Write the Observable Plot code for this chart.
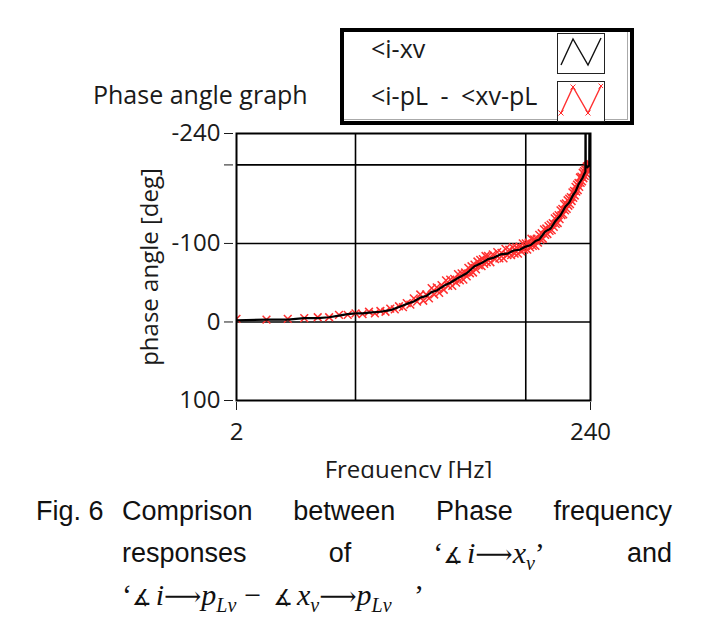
<!DOCTYPE html>
<html>
<head>
<meta charset="utf-8">
<script src="https://cdn.jsdelivr.net/npm/d3@7"></script>
<script src="https://cdn.jsdelivr.net/npm/@observablehq/plot@0.6"></script>
<style>
  html, body { margin: 0; padding: 0; background: white; }
  #wrap { position: relative; width: 706px; height: 626px; overflow: hidden; background: white; font-family: "Open Sans", sans-serif; color: #111; }
  #chart { position: absolute; left: 0; top: 0; }
  .abs { position: absolute; white-space: nowrap; }
  #title { left: 93px; top: 82px; font-size: 25px; line-height: 25px; color: #1a1a1a; }
  #legend { left: 340px; top: 28px; width: 294px; height: 97px; box-sizing: border-box; border: 4px solid black; background: white; }
  #legend .inner { position: absolute; right: 2px; top: 0; bottom: 1px; width: 0; border-left: 1px solid #aaa; }
  #legend .innerb { position: absolute; left: 0; right: 2px; bottom: 1px; height: 0; border-top: 1px solid #aaa; }
  .lt { position: absolute; font-size: 25px; line-height: 25px; color: #1a1a1a; }
  .sw { position: absolute; width: 48px; height: 41px; box-sizing: border-box; border: 1.5px solid #222; background: white; }
  #caption { left: 36px; top: 490px; width: 636px; font-family: "Liberation Sans", Arial, sans-serif; font-size: 27px; color: #111; }
  .cl { display: flex; height: 42px; line-height: 42px; }
  .cl .lab { width: 86px; flex: none; }
  .cl .body { flex: 1; display: flex; justify-content: space-between; }
  .cl.ind { padding-left: 86px; }
  .m { font-family: "Liberation Serif", "DejaVu Serif", serif; font-size: 30px; }
  .m i { font-style: italic; }
  .m .ar { font-family: "DejaVu Serif", serif; font-size: 26px; }
  .m .an { font-family: "DejaVu Sans", sans-serif; font-size: 22px; margin-right: 4px; }
  .m .mn { margin: 0 12px 0 8px; }
  .m sub { font-size: 20px; vertical-align: -7px; line-height: 0; }
</style>
</head>
<body>
<div id="wrap">
  <div id="chart"></div>
  <div id="title" class="abs">Phase angle graph</div>
  <div id="legend" class="abs">
    <div class="inner"></div>
    <div class="innerb"></div>
  </div>
  <div id="caption" class="abs"></div>
</div>
<script>
// ---------- data ----------
const seriesNames = ["<i-xv", "<i-pL - <xv-pL"];

// black line: <i-xv  (frequency in Hz, phase in deg)
const blackFreq = [2, 3, 4, 5, 6, 7, 8, 9, 10, 11, 12, 14, 16, 18, 20, 22, 24, 26, 28, 30, 33, 36, 40, 45, 50, 55, 60, 65, 71, 78, 85, 92, 100, 107, 114, 120, 130, 140, 150, 160, 171, 180, 190, 196, 205, 215, 220, 224, 224.5, 225, 230, 236, 237];
const blackDeg  = [-2, -3, -3, -5, -5, -6, -8, -10, -11, -11, -12, -13, -15, -19, -23, -26, -31, -33, -38, -40, -46, -50, -56, -62, -71, -75, -80, -82, -86, -87, -91, -92, -96, -98, -103, -105, -115, -119, -129, -136, -147, -152, -162, -166, -176, -183, -188, -191, -300, -200, -197, -199, -300];

// red markers: <i-pL - <xv-pL
const redFreq = [2, 3, 4, 5, 6, 7, 8, 9, 10, 11, 12, 13, 14, 15, 16, 17, 18, 19, 20,
  21, 22, 23, 24, 25, 26, 27, 28, 29, 30, 31, 32, 33, 34, 35, 36, 37, 38, 39, 40,
  41, 42, 43, 44, 45, 46, 47, 48, 49, 50, 51, 52, 53, 54, 55, 56, 57, 58, 59, 60,
  62, 64, 66, 68, 70, 72, 74, 76, 78, 80, 82, 84, 86, 88, 90, 92, 94, 96, 98, 100,
  102, 104, 106, 108, 110, 112, 114, 116, 118, 120, 122, 124, 126, 128, 130, 132, 134, 136, 138, 140,
  142, 144, 146, 148, 150, 152, 154, 156, 158, 160, 162, 164, 166, 168, 170, 172, 174, 176, 178, 180,
  182, 184, 186, 188, 190, 192, 194, 196, 198, 200, 202, 204, 206, 208, 210, 212, 214, 216, 218, 220,
  222, 224, 226, 228, 230, 232, 234, 236, 238, 240];
const redDeg = [-4, -3, -4, -5, -6, -6, -9, -9, -11, -10, -13, -11, -14, -13, -17, -16, -20, -19, -24,
  -22, -30, -26, -35, -27, -35, -30, -43, -35, -44, -37, -47, -41, -53, -46, -54, -46, -55, -50, -61,
  -53, -62, -54, -63, -58, -69, -62, -71, -63, -73, -67, -77, -72, -79, -71, -80, -74, -84, -76, -84,
  -76, -86, -80, -89, -81, -88, -81, -93, -85, -92, -85, -95, -87, -95, -87, -96, -90, -100, -92, -100,
  -92, -101, -95, -106, -97, -105, -97, -106, -101, -111, -105, -113, -106, -118, -111, -119, -112, -122, -116, -124,
  -117, -126, -121, -132, -125, -134, -126, -136, -131, -142, -136, -144, -137, -150, -142, -151, -144, -155, -148, -157,
  -150, -159, -154, -165, -158, -167, -161, -172, -166, -175, -168, -177, -172, -184, -177, -185, -179, -190, -183, -192,
  -186, -194, -189, -198, -194, -199, -195, -201, -198, -201];

const yTicks = [-240, -200, -100, 0, 100];
const yTickLabels = ["-240", "", "-100", "0", "100"];
const xTicks = [2, 240];
const xTickLabels = ["2", "240"];
const xGrid = [10, 100];
const yGrid = [-200, -100, 0];

const black = blackFreq.map((f, i) => ({f, d: blackDeg[i]}));
const red = redFreq.map((f, i) => ({f, d: redDeg[i]}));

const chart = Plot.plot({
  width: 706,
  height: 478,
  marginLeft: 236,
  marginRight: 116,
  marginTop: 133,
  marginBottom: 78,
  style: {fontFamily: "Open Sans", fontSize: "24px", overflow: "hidden", background: "transparent", color: "#1a1a1a"},
  x: {type: "log", domain: [2, 240]},
  y: {domain: [-240, 100], reverse: true},
  marks: [
    Plot.ruleX(xGrid, {stroke: "black", strokeWidth: 1.6}),
    Plot.ruleY(yGrid, {stroke: "black", strokeWidth: 1.6}),
    Plot.dot(red, {x: "f", y: "d", symbol: "times", r: 3.6, stroke: "#ff3030", strokeWidth: 1.5, clip: true}),
    Plot.line(black, {x: "f", y: "d", stroke: "black", strokeWidth: 2.2, clip: true}),
    Plot.frame({stroke: "black", strokeWidth: 2}),
    Plot.axisY({ticks: yTicks, tickFormat: d => yTickLabels[yTicks.indexOf(d)], tickSize: 9, tickPadding: 4, dx: -3, label: null, fontSize: 24}),
    Plot.axisX({ticks: xTicks, tickFormat: d => xTickLabels[xTicks.indexOf(d)], tickSize: 8, tickPadding: 12, dy: 2, label: null, fontSize: 24}),
    Plot.text(["phase angle [deg]"], {frameAnchor: "left", textAnchor: "middle", rotate: -90, dx: -86, fontSize: 24, fill: "#1a1a1a"}),
    Plot.text(["Frequency [Hz]"], {frameAnchor: "bottom", textAnchor: "middle", dy: 77, dx: -5, fontSize: 24, fill: "#1a1a1a"})
  ]
});
document.getElementById("chart").appendChild(chart);

// ---------- legend ----------
const legend = document.getElementById("legend");
const lt1 = document.createElement("div");
lt1.className = "lt"; lt1.style.left = "27px"; lt1.style.top = "4px"; lt1.textContent = seriesNames[0];
const lt2 = document.createElement("div");
lt2.className = "lt"; lt2.style.left = "27px"; lt2.style.top = "51px"; lt2.style.wordSpacing = "6px"; lt2.textContent = seriesNames[1];
legend.appendChild(lt1); legend.appendChild(lt2);

const ns = "http://www.w3.org/2000/svg";
function swatch(top, color, markers) {
  const box = document.createElement("div");
  box.className = "sw"; box.style.left = "213px"; box.style.top = top + "px";
  const svg = document.createElementNS(ns, "svg");
  svg.setAttribute("width", 45); svg.setAttribute("height", 38);
  svg.style.position = "absolute"; svg.style.left = "0"; svg.style.top = "0";
  const pts = [[3, 31], [15, 5], [30, 31], [43, 4]];
  const pl = document.createElementNS(ns, "polyline");
  pl.setAttribute("points", pts.map(p => p.join(",")).join(" "));
  pl.setAttribute("fill", "none"); pl.setAttribute("stroke", color); pl.setAttribute("stroke-width", "1.4");
  svg.appendChild(pl);
  if (markers) {
    for (const [x, y] of pts) {
      const p = document.createElementNS(ns, "path");
      p.setAttribute("d", `M${x-2.5},${y-2.5}L${x+2.5},${y+2.5}M${x-2.5},${y+2.5}L${x+2.5},${y-2.5}`);
      p.setAttribute("stroke", color); p.setAttribute("stroke-width", "1");
      svg.appendChild(p);
    }
  }
  box.appendChild(svg);
  legend.appendChild(box);
}
swatch(1, "#111", false);
swatch(49, "#ff3030", true);

// ---------- caption ----------
const captionLabel = "Fig. 6";
const captionLine1 = ["Comprison", "between", "Phase", "frequency"];
const cap = document.getElementById("caption");
cap.innerHTML = `
  <div class="cl"><span class="lab">${captionLabel}</span><span class="body">${captionLine1.map(w => `<span>${w}</span>`).join("")}</span></div>
  <div class="cl ind"><span class="body"><span>responses</span><span>of</span><span class="m">‘<span class="an">∡</span><i>i</i><span class="ar">⟶</span><i>x</i><sub><i>v</i></sub>’</span><span>and</span></span></div>
  <div class="cl ind"><span class="m">‘<span class="an">∡</span><i>i</i><span class="ar">⟶</span><i>p</i><sub><i>Lv</i></sub><span class="mn">−</span><span class="an">∡</span><i>x</i><sub><i>v</i></sub><span class="ar">⟶</span><i>p</i><sub><i>Lv</i></sub>&nbsp;&nbsp;&nbsp;’</span></div>
`;
</script>
</body>
</html>
